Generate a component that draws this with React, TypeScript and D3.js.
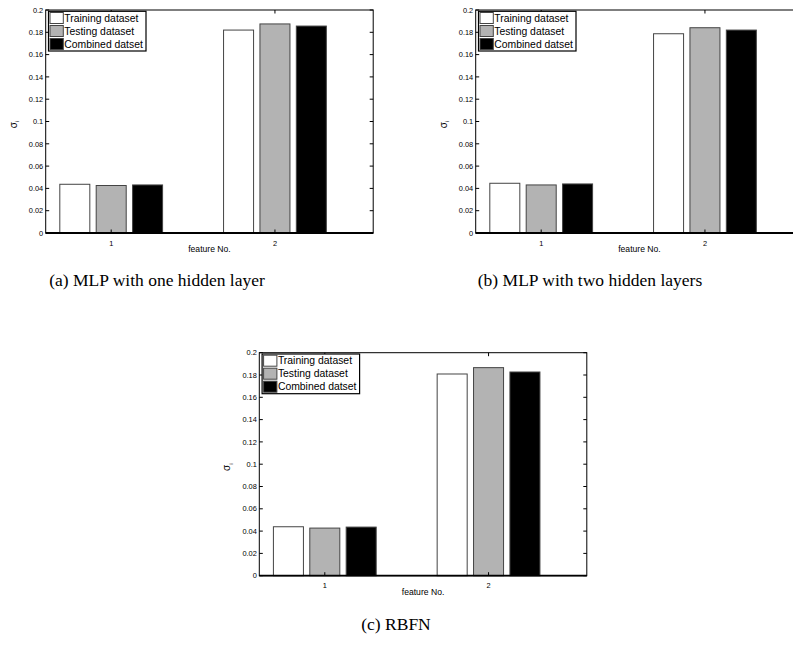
import * as d3 from "d3";
import { useEffect, useRef } from "react";

// feature indices and series
const features = [1, 2];
const seriesNames = ["Training dataset", "Testing dataset", "Combined datset"];
const seriesColors = ["#ffffff", "#b3b3b3", "#000000"];

// sigma_i per feature
const mlpOneTraining = [0.0437, 0.182];
const mlpOneTesting = [0.0426, 0.1875];
const mlpOneCombined = [0.0431, 0.1856];

const mlpTwoTraining = [0.0446, 0.1787];
const mlpTwoTesting = [0.0431, 0.1841];
const mlpTwoCombined = [0.044, 0.182];

const rbfnTraining = [0.0439, 0.1809];
const rbfnTesting = [0.0427, 0.1866];
const rbfnCombined = [0.0436, 0.1827];

const yTicks = [0, 0.02, 0.04, 0.06, 0.08, 0.1, 0.12, 0.14, 0.16, 0.18, 0.2];
const yTickLabels = ["0", "0.02", "0.04", "0.06", "0.08", "0.1", "0.12", "0.14", "0.16", "0.18", "0.2"];

const captions = ["(a) MLP with one hidden layer", "(b) MLP with two hidden layers", "(c) RBFN"];

const panels = [
    { series: [mlpOneTraining, mlpOneTesting, mlpOneCombined], left: 45.7, top: 10, capX: 157, capY: 286 },
    { series: [mlpTwoTraining, mlpTwoTesting, mlpTwoCombined], left: 475.7, top: 10, capX: 590, capY: 286 },
    { series: [rbfnTraining, rbfnTesting, rbfnCombined], left: 259.3, top: 352.7, capX: 396, capY: 630 },
];

const App = () => {
    const ref = useRef<SVGSVGElement>(null);

    useEffect(() => {
        const svg = d3.select(ref.current);
        svg.selectAll("*").remove();
        drawChart(svg);
    }, []);

    const drawChart = (svg: any) => {
        const width = 327.5,
            height = 223;
        const sans = "'Liberation Sans', Arial, Helvetica, sans-serif";

        const x = d3.scaleLinear().domain([0.6, 2.6]).range([0, width]);
        const y = d3.scaleLinear().domain([0, 0.2]).range([height, 0]);
        const offsets = [-0.2222, 0, 0.2222];
        const barW = 0.1833;
        const tick = 3.5;

        panels.forEach((p, pi) => {
            const g = svg.append("g").attr("transform", `translate(${p.left},${p.top})`);

            // bars
            p.series.forEach((vals, si) => {
                g.selectAll(null)
                    .data(features)
                    .join("rect")
                    .attr("x", (f) => x(f + offsets[si] - barW / 2))
                    .attr("width", x(barW) - x(0))
                    .attr("y", (f, i) => y(vals[i]))
                    .attr("height", (f, i) => y(0) - y(vals[i]))
                    .attr("fill", seriesColors[si])
                    .attr("stroke", "#444")
                    .attr("stroke-width", 1);
            });

            // box
            g.append("rect")
                .attr("width", width)
                .attr("height", height)
                .attr("fill", "none")
                .attr("stroke", "black")
                .attr("stroke-width", 1);
            g.append("line")
                .attr("x1", 0).attr("x2", width)
                .attr("y1", height).attr("y2", height)
                .attr("stroke", "black")
                .attr("stroke-width", 1.8);

            // y ticks, inward on both sides
            yTicks.forEach((t, i) => {
                g.append("line").attr("x1", 0).attr("x2", tick).attr("y1", y(t)).attr("y2", y(t)).attr("stroke", "black");
                g.append("line").attr("x1", width).attr("x2", width - tick).attr("y1", y(t)).attr("y2", y(t)).attr("stroke", "black");
                g.append("text")
                    .attr("x", -2.5)
                    .attr("y", y(t) + 2.7)
                    .attr("text-anchor", "end")
                    .style("font-family", sans)
                    .style("font-size", "7.4px")
                    .text(yTickLabels[i]);
            });

            // x ticks
            features.forEach((f) => {
                g.append("line").attr("x1", x(f)).attr("x2", x(f)).attr("y1", height).attr("y2", height - tick).attr("stroke", "black");
                g.append("line").attr("x1", x(f)).attr("x2", x(f)).attr("y1", 0).attr("y2", tick).attr("stroke", "black");
                g.append("text")
                    .attr("x", x(f))
                    .attr("y", height + 12.5)
                    .attr("text-anchor", "middle")
                    .style("font-family", sans)
                    .style("font-size", "7.4px")
                    .text(String(f));
            });

            // axis labels
            g.append("text")
                .attr("x", width / 2)
                .attr("y", height + 19.2)
                .attr("text-anchor", "middle")
                .style("font-family", sans)
                .style("font-size", "8.6px")
                .text("feature No.");

            const yl = g.append("text")
                .attr("transform", `translate(${-29},${height / 2 + 3}) rotate(-90)`)
                .attr("text-anchor", "middle")
                .style("font-family", sans)
                .style("font-size", "10px");
            yl.append("tspan").text("σ");
            yl.append("tspan").attr("dy", 2.5).style("font-size", "6px").text("i");

            // legend
            const lg = g.append("g").attr("transform", "translate(2.8,1.3)");
            lg.append("rect")
                .attr("width", 97.5)
                .attr("height", 39.7)
                .attr("fill", "white")
                .attr("stroke", "black")
                .attr("stroke-width", 1.2);
            seriesNames.forEach((name, i) => {
                lg.append("rect")
                    .attr("x", 1.5)
                    .attr("y", 1.2 + i * 13)
                    .attr("width", 13.3)
                    .attr("height", 11)
                    .attr("fill", seriesColors[i])
                    .attr("stroke", "#444");
                lg.append("text")
                    .attr("x", 15.8)
                    .attr("y", 10.3 + i * 13)
                    .style("font-family", sans)
                    .style("font-size", "10.4px")
                    .text(name);
            });

            // caption
            svg.append("text")
                .attr("x", p.capX)
                .attr("y", p.capY)
                .attr("text-anchor", "middle")
                .style("font-family", "'Liberation Serif', 'Times New Roman', serif")
                .style("font-size", "17.5px")
                .text(captions[pi]);
        });
    };

    return (
        <svg
            ref={ref}
            width={793}
            height={645}
            style={{ position: "absolute", left: 0, top: 0, background: "white" }}
        />
    );
};

export default App;
